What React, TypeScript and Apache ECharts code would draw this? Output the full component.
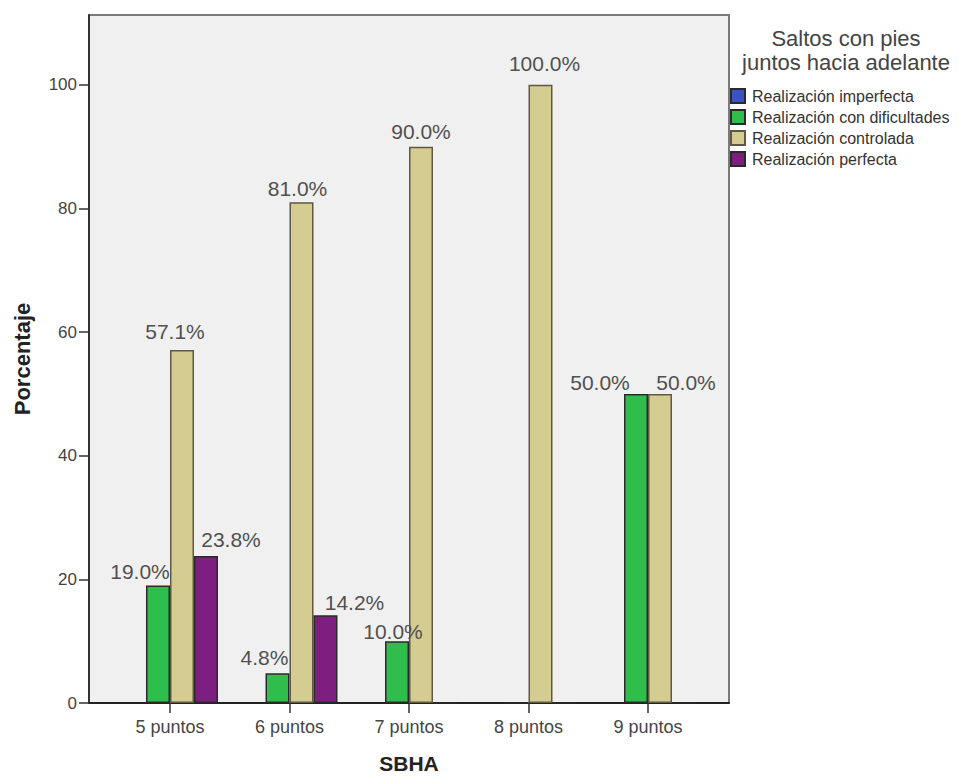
import React, { useEffect, useRef } from "react";
import * as echarts from "echarts";

const categories = ["5 puntos", "6 puntos", "7 puntos", "8 puntos", "9 puntos"];
const seriesNames = [
  "Realización imperfecta",
  "Realización con dificultades",
  "Realización controlada",
  "Realización perfecta",
];
const imperfecta: (number | null)[] = [null, null, null, null, null];
const dificultades = [19.0, 4.8, 10.0, 0, 50.0];
const controlada = [57.1, 81.0, 90.0, 100.0, 50.0];
const perfecta = [23.8, 14.2, 0, 0, 0];
const yTicks = [0, 20, 40, 60, 80, 100];
const legendTitle = "Saltos con pies\njuntos hacia adelante";

// label offsets [dx, dy] (style only)
const offDificultades = [[-18, -2], [-13, -3], [-4, 3], [0, 0], [-36, 1]];
const offControlada = [[-7, -6], [-4, -1], [0, -3], [4, -9], [26, 1]];
const offPerfecta = [[25, -4], [29, 0], [0, 0], [0, 0], [0, 0]];

const colors = ["#3A52C4", "#2FBE4B", "#D4CC90", "#7D1E80"];
const FONT = "'Liberation Sans', Arial, sans-serif";

function makeData(values: (number | null)[], off: number[][] | null) {
  return values.map((v, i) => ({
    value: v,
    label: {
      show: v !== null && v !== 0,
      offset: off ? off[i] : [0, 0],
    },
  }));
}

export default function App() {
  const ref = useRef<HTMLDivElement>(null);
  useEffect(() => {
    if (!ref.current) return;
    const chart = echarts.init(ref.current, null, { renderer: "svg" });
    const yMax = 111.3;
    const barSeries = [
      { values: imperfecta, off: null },
      { values: dificultades, off: offDificultades },
      { values: controlada, off: offControlada },
      { values: perfecta, off: offPerfecta },
    ].map((s, i) => ({
      type: "bar",
      name: seriesNames[i],
      xAxisIndex: 1,
      yAxisIndex: 1,
      barWidth: 24,
      barGap: "0%",
      itemStyle: {
        color: colors[i],
        borderColor: i === 2 ? "#5e5844" : "#2a2a2a",
        borderWidth: 1.5,
      },
      label: {
        show: true,
        position: "top",
        distance: 2,
        fontFamily: FONT,
        fontSize: 21,
        color: "#505050",
        formatter: (p: any) => (p.value ? Number(p.value).toFixed(1) + "%" : ""),
      },
      data: makeData(s.values, s.off),
    }));

    chart.setOption({
      animation: false,
      backgroundColor: "#ffffff",
      grid: [
        {
          left: 89,
          right: 236,
          top: 15,
          bottom: 73,
          show: true,
          backgroundColor: "#F0F0F0",
          borderColor: "#7a7a7a",
          borderWidth: 2,
          outerBoundsMode: "none",
          containLabel: false,
        },
        {
          left: 110.25,
          right: 257.25,
          top: 15,
          bottom: 73,
          outerBoundsMode: "none",
          containLabel: false,
        },
      ],
      xAxis: [
        {
          type: "value",
          gridIndex: 0,
          min: 0,
          max: 1,
          axisLine: { show: true, onZero: false, lineStyle: { color: "#222", width: 2 } },
          axisTick: { show: false },
          axisLabel: { show: false },
          splitLine: { show: false },
        },
        {
          type: "category",
          gridIndex: 1,
          data: categories,
          name: "SBHA",
          nameLocation: "middle",
          nameGap: 50,
          nameMoveOverlap: false,
          nameTextStyle: { fontFamily: FONT, fontSize: 21, fontWeight: "bold", color: "#222" },
          axisLine: { show: false },
          axisTick: {
            show: true,
            alignWithLabel: true,
            length: 10,
            lineStyle: { color: "#333", width: 1.5 },
          },
          axisLabel: { margin: 15, fontFamily: FONT, fontSize: 18, color: "#444" },
        },
      ],
      yAxis: [
        {
          type: "value",
          gridIndex: 0,
          min: 0,
          max: yMax,
          name: "Porcentaje",
          nameLocation: "middle",
          nameGap: 56,
          nameMoveOverlap: false,
          nameRotate: 90,
          nameTextStyle: { fontFamily: FONT, fontSize: 22, fontWeight: "bold", color: "#222" },
          axisLine: { show: true, lineStyle: { color: "#333", width: 2 } },
          axisTick: {
            show: true,
            length: 10,
            customValues: yTicks,
            lineStyle: { color: "#333", width: 1.5 },
          },
          axisLabel: {
            customValues: yTicks,
            margin: 12,
            fontFamily: FONT,
            fontSize: 17,
            color: "#444",
          },
          splitLine: { show: false },
        },
        {
          type: "value",
          gridIndex: 1,
          min: 0,
          max: yMax,
          show: false,
          splitLine: { show: false },
        },
      ],
      legend: {
        orient: "vertical",
        left: 730,
        top: 88,
        padding: 0,
        itemWidth: 14,
        itemHeight: 14,
        itemGap: 5,
        icon: "rect",
        textStyle: {
          fontFamily: FONT,
          fontSize: 16,
          lineHeight: 16,
          color: "#333",
          padding: [0, 0, 0, 2],
        },
        data: seriesNames,
      },
      graphic: [
        {
          type: "text",
          x: 846,
          y: 26,
          style: {
            text: legendTitle,
            textAlign: "center",
            textVerticalAlign: "top",
            fontFamily: FONT,
            fontSize: 22,
            lineHeight: 24,
            fill: "#444",
          },
        },
      ],
      series: barSeries,
    });
    return () => chart.dispose();
  }, []);
  return (
    <div
      ref={ref}
      style={{ position: "fixed", left: 0, top: 0, width: 965, height: 776 }}
    />
  );
}
